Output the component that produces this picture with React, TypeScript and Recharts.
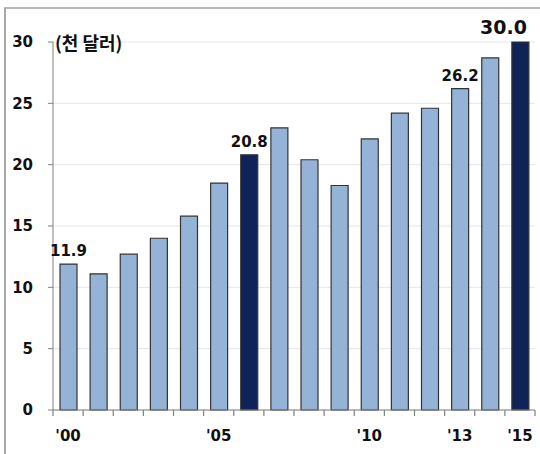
import { Bar, BarChart, CartesianGrid, Cell, LabelList, XAxis, YAxis } from "recharts"

// GDP per capita, thousand dollars
const years = ["2000", "2001", "2002", "2003", "2004", "2005", "2006", "2007", "2008", "2009", "2010", "2011", "2012", "2013", "2014", "2015"]
const values = [11.9, 11.1, 12.7, 14.0, 15.8, 18.5, 20.8, 23.0, 20.4, 18.3, 22.1, 24.2, 24.6, 26.2, 28.7, 30.0]
const highlighted = ["2006", "2015"]
const labelled = ["2000", "2006", "2013", "2015"]
const tickLabels: Record<string, string> = { "2000": "'00", "2005": "'05", "2010": "'10", "2013": "'13", "2015": "'15" }
const yTicks = [0, 5, 10, 15, 20, 25, 30]

const LIGHT = "#95b3d7"
const DARK = "#0f2358"
const OUTLINE = "#333"
const AXIS = "#808080"
const FONT = "'DejaVu Sans', Verdana, sans-serif"

const data = years.map((year, i) => ({ year, value: values[i] }))

const STEP = 482 / years.length
const AXIS_Y = 410

// category boundary ticks plus the short year labels
function YearTick(props: any) {
  const { x, payload, index } = props
  const label = tickLabels[payload.value]
  return (
    <g>
      <line x1={x - STEP / 2} x2={x - STEP / 2} y1={AXIS_Y} y2={AXIS_Y + 6} stroke={AXIS} strokeWidth={1.2} />
      {index === years.length - 1 && (
        <line x1={x + STEP / 2} x2={x + STEP / 2} y1={AXIS_Y} y2={AXIS_Y + 6} stroke={AXIS} strokeWidth={1.2} />
      )}
      {label && (
        <text x={x} y={AXIS_Y + 31} textAnchor="middle" fontFamily={FONT} fontWeight="bold" fontSize={15} fill="#111">
          {label}
        </text>
      )}
    </g>
  )
}

function ValueLabel(props: any) {
  const { x, y, width, value, index } = props
  if (!labelled.includes(years[index])) return null
  const last = index === years.length - 1
  return (
    <text
      x={last ? x + width - 2 : x + width / 2}
      y={y - 8}
      textAnchor={last ? "end" : "middle"}
      fontFamily={FONT}
      fontWeight="bold"
      fontSize={last ? 19 : 15}
      fill="#111"
    >
      {Number(value).toFixed(1)}
    </text>
  )
}

export default function App() {
  return (
    <div style={{ position: "fixed", left: 0, top: 0, width: 540, height: 454, background: "#fff" }}>
      <div
        style={{
          position: "absolute",
          left: 4,
          top: 7,
          right: 0,
          bottom: 0,
          borderLeft: "2px solid #a8a8a8",
          borderTop: "2px solid #b8b8b8",
        }}
      />
      <BarChart width={540} height={454} data={data} margin={{ top: 42, right: 5, left: 0, bottom: 4 }}>
        <CartesianGrid vertical={false} stroke="#e6e6e6" />
        <XAxis
          dataKey="year"
          interval={0}
          height={40}
          tickLine={false}
          axisLine={{ stroke: AXIS }}
          tick={<YearTick />}
        />
        <YAxis
          domain={[0, 30]}
          ticks={yTicks}
          width={53}
          tickSize={5}
          tickMargin={15}
          axisLine={{ stroke: AXIS }}
          tickLine={{ stroke: AXIS }}
          tick={{ fontFamily: FONT, fontWeight: "bold", fontSize: 15, fill: "#111" }}
        />
        <Bar dataKey="value" barSize={17} stroke={OUTLINE} strokeWidth={1.2} isAnimationActive={false}>
          {data.map((d) => (
            <Cell key={d.year} fill={highlighted.includes(d.year) ? DARK : LIGHT} />
          ))}
          <LabelList dataKey="value" content={<ValueLabel />} />
        </Bar>
      </BarChart>
      <div
        style={{
          position: "absolute",
          left: 55,
          top: 30,
          fontFamily: "'Noto Sans CJK KR', sans-serif",
          fontWeight: "bold",
          fontSize: 18,
          color: "#111",
          lineHeight: "24px",
        }}
      >
        (천 달러)
      </div>
    </div>
  )
}
